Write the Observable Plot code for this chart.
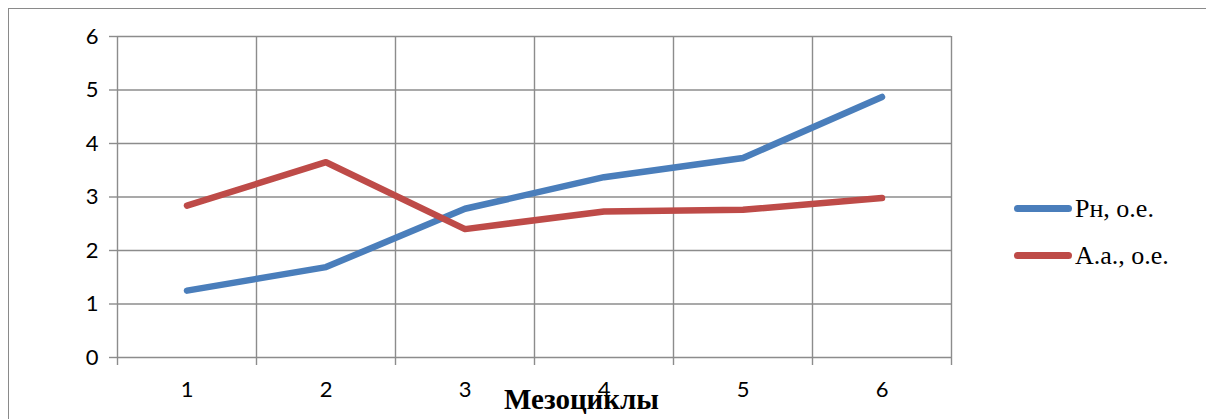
<!DOCTYPE html>
<html>
<head>
<meta charset="utf-8">
<script src="https://cdn.jsdelivr.net/npm/d3@7"></script>
<script src="https://cdn.jsdelivr.net/npm/@observablehq/plot@0.6"></script>
<style>
  body { margin: 0; background: #fff; }
  #wrap { position: relative; width: 1206px; height: 419px; overflow: hidden; }
  #border { position: absolute; left: 8px; top: 8px; width: 1400px; height: 600px;
            border-left: 1.5px solid #8a8a8a; border-top: 1.5px solid #8a8a8a; box-sizing: border-box; }
  #chart { position: absolute; left: 0; top: 0; }
  #legend { position: absolute; left: 1014px; top: 185px; font-family: "Liberation Serif", "Times New Roman", serif;
            font-size: 26px; color: #000; }
  .item { display: flex; align-items: center; height: 47px; }
  .sw { width: 58px; height: 7px; border-radius: 3.5px; margin-right: 3px; }
</style>
</head>
<body>
<div id="wrap">
  <div id="border"></div>
  <div id="chart"></div>
  <div id="legend"></div>
</div>
<script>
// Mesocycle numbers on the x axis
const mesocycles = [1, 2, 3, 4, 5, 6];
// Series values, conventional units
const rnValues = [1.25, 1.69, 2.78, 3.37, 3.73, 4.87];
const aaValues = [2.84, 3.65, 2.40, 2.73, 2.76, 2.98];
const seriesNames = ["Рн, о.е.", "А.а., о.е."];
const seriesColors = ["#4a7ebb", "#be4b48"];
const yTicks = [0, 1, 2, 3, 4, 5, 6];
const xTitle = "Мезоциклы";

// Category boundaries for the vertical grid
const bounds = d3.range(mesocycles.length + 1).map(i => mesocycles[0] - 0.5 + i);

const rows = [];
[rnValues, aaValues].forEach((vals, s) => {
  vals.forEach((v, i) => rows.push({series: seriesNames[s], x: mesocycles[i], y: v}));
});

const gridColor = "#8c8c8c";
const tickFont = "Lato, 'Open Sans', sans-serif";

const chart = Plot.plot({
  width: 1206,
  height: 419,
  marginLeft: 117,
  marginRight: 255,
  marginTop: 36,
  marginBottom: 62,
  style: {background: "transparent", overflow: "visible"},
  x: {domain: [bounds[0], bounds[bounds.length - 1]]},
  y: {domain: [0, 6]},
  color: {domain: seriesNames, range: seriesColors},
  marks: [
    Plot.gridY(yTicks, {stroke: gridColor, strokeOpacity: 1, strokeWidth: 1.4}),
    Plot.gridX(bounds, {stroke: gridColor, strokeOpacity: 1, strokeWidth: 1.4}),
    Plot.axisY(yTicks, {tickSize: 8, tickPadding: 11, stroke: gridColor, strokeWidth: 1.4,
      fontSize: 22, fontFamily: tickFont, fill: "#000", label: null, tickFormat: d3.format("d")}),
    Plot.axisX(bounds, {tickSize: 8, stroke: gridColor, strokeWidth: 1.4, text: null, label: null}),
    Plot.axisX(mesocycles, {tickSize: 0, tickPadding: 24, fontSize: 22, fontFamily: tickFont,
      fill: "#000", label: null, tickFormat: d3.format("d")}),
    Plot.line(rows, {x: "x", y: "y", z: "series", stroke: "series", strokeWidth: 6.5,
      strokeLinecap: "round", strokeLinejoin: "round"}),
    Plot.text([xTitle], {frameAnchor: "bottom", dx: 47, dy: 51, text: d => d,
      fontFamily: "'Liberation Serif', 'Times New Roman', serif", fontWeight: "bold", fontSize: 29, fill: "#000"})
  ]
});
document.getElementById("chart").appendChild(chart);

// Legend to the right of the plot area
const legend = document.getElementById("legend");
seriesNames.forEach((name, i) => {
  const item = document.createElement("div");
  item.className = "item";
  const sw = document.createElement("span");
  sw.className = "sw";
  sw.style.background = seriesColors[i];
  const label = document.createElement("span");
  label.textContent = name;
  item.appendChild(sw);
  item.appendChild(label);
  legend.appendChild(item);
});
</script>
</body>
</html>
